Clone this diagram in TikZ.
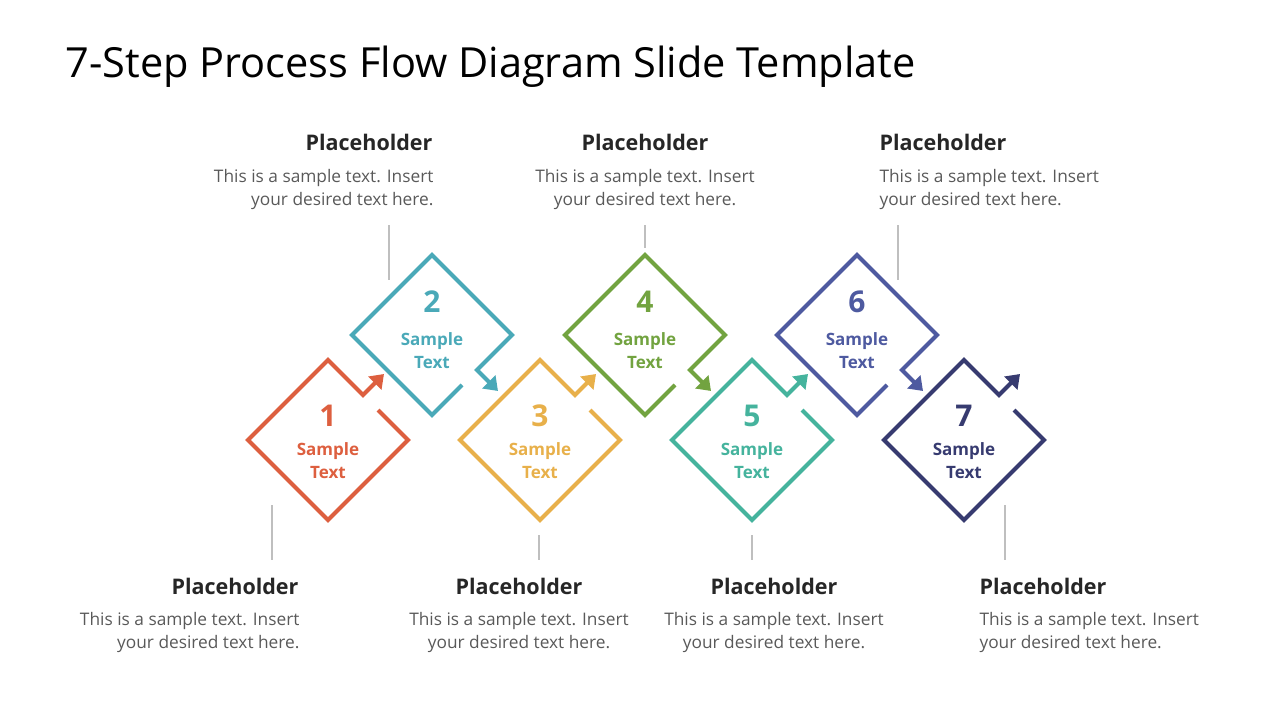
\documentclass[tikz,border=0pt]{standalone}
\usepackage{fontspec}
\setmainfont{Open Sans}
\usetikzlibrary{arrows.meta}
\definecolor{c1}{HTML}{DD5F3F}
\definecolor{c2}{HTML}{4AA9B8}
\definecolor{c3}{HTML}{E8B04A}
\definecolor{c4}{HTML}{72A340}
\definecolor{c5}{HTML}{45B39D}
\definecolor{c6}{HTML}{4E5AA0}
\definecolor{c7}{HTML}{373B70}
\definecolor{txtgray}{HTML}{595959}
\definecolor{linegray}{HTML}{BFBFBF}
\tikzset{
  dia/.style={line width=4.2pt, line join=miter, -{Triangle[length=13pt,width=18pt]}},
  num/.style={font=\bfseries\fontsize{30}{32}\selectfont},
  lab/.style={font=\bfseries\fontsize{17}{22}\selectfont, align=center},
  ph/.style={font=\bfseries\fontsize{21.5}{24}\selectfont, text=black!85},
  body/.style={font=\fontsize{17.3}{22.5}\selectfont, text=txtgray},
  conn/.style={linegray, line width=1.5pt}
}
\newcommand{\odddia}[4]{% cx cy color number
  \draw[dia,#3] (#1+50,#2-30) -- (#1+80,#2) -- (#1,#2+80) -- (#1-80,#2) -- (#1,#2-80) -- (#1+35,#2-45) -- (#1+56,#2-66);
  \node[num,text=#3] (n#4) at (#1,#2-24) {#4};
  \node[lab,text=#3] (t#4) at (#1,#2+21) {Sample\\[1pt]Text};
}
\newcommand{\evendia}[4]{%
  \draw[dia,#3] (#1+30,#2+50) -- (#1,#2+80) -- (#1-80,#2) -- (#1,#2-80) -- (#1+80,#2) -- (#1+45,#2+35) -- (#1+66,#2+56);
  \node[num,text=#3] (n#4) at (#1,#2-33) {#4};
  \node[lab,text=#3] (t#4) at (#1,#2+16) {Sample\\[1pt]Text};
}
\begin{document}
\begin{tikzpicture}[x=1pt,y=-1pt]
\useasboundingbox (0,0) rectangle (1280,720);
\node[anchor=west,font=\fontsize{41.5}{44}\selectfont] (title) at (62,67) {7-Step Process Flow Diagram Slide Template};
\odddia{328}{440}{c1}{1}
\evendia{432}{335}{c2}{2}
\odddia{540}{440}{c3}{3}
\evendia{645}{335}{c4}{4}
\odddia{752}{440}{c5}{5}
\evendia{857}{335}{c6}{6}
\odddia{964}{440}{c7}{7}
% top texts
\node[ph,anchor=east] (p2) at (436,142) {Placeholder};
\node[body,anchor=north east,align=right] (b2) at (437,166) {This is a sample text. Insert\\your desired text here.};
\node[ph] (p4) at (645,142) {Placeholder};
\node[body,anchor=north,align=center] (b4) at (645,166) {This is a sample text. Insert\\your desired text here.};
\node[ph,anchor=west] (p6) at (876,142) {Placeholder};
\node[body,anchor=north west,align=left] (b6) at (876,166) {This is a sample text. Insert\\your desired text here.};
% bottom texts
\node[ph,anchor=east] (p1) at (302,586) {Placeholder};
\node[body,anchor=north east,align=right] (b1) at (303,609) {This is a sample text. Insert\\your desired text here.};
\node[ph] (p3) at (519,586) {Placeholder};
\node[body,anchor=north,align=center] (b3) at (519,609) {This is a sample text. Insert\\your desired text here.};
\node[ph] (p5) at (774,586) {Placeholder};
\node[body,anchor=north,align=center] (b5) at (774,609) {This is a sample text. Insert\\your desired text here.};
\node[ph,anchor=west] (p7) at (976,586) {Placeholder};
\node[body,anchor=north west,align=left] (b7) at (976,609) {This is a sample text. Insert\\your desired text here.};
% connector lines
\coordinate (a2) at (389,225); \coordinate (e2) at (389,280);
\coordinate (a4) at (645,225); \coordinate (e4) at (645,248);
\coordinate (a6) at (898,225); \coordinate (e6) at (898,280);
\coordinate (a1) at (272,505); \coordinate (e1) at (272,560);
\coordinate (a3) at (539,535); \coordinate (e3) at (539,560);
\coordinate (a5) at (752,535); \coordinate (e5) at (752,560);
\coordinate (a7) at (1005,505); \coordinate (e7) at (1005,560);
\foreach \i in {1,...,7} {\draw[conn] (a\i) -- (e\i);}
\end{tikzpicture}
\end{document}
